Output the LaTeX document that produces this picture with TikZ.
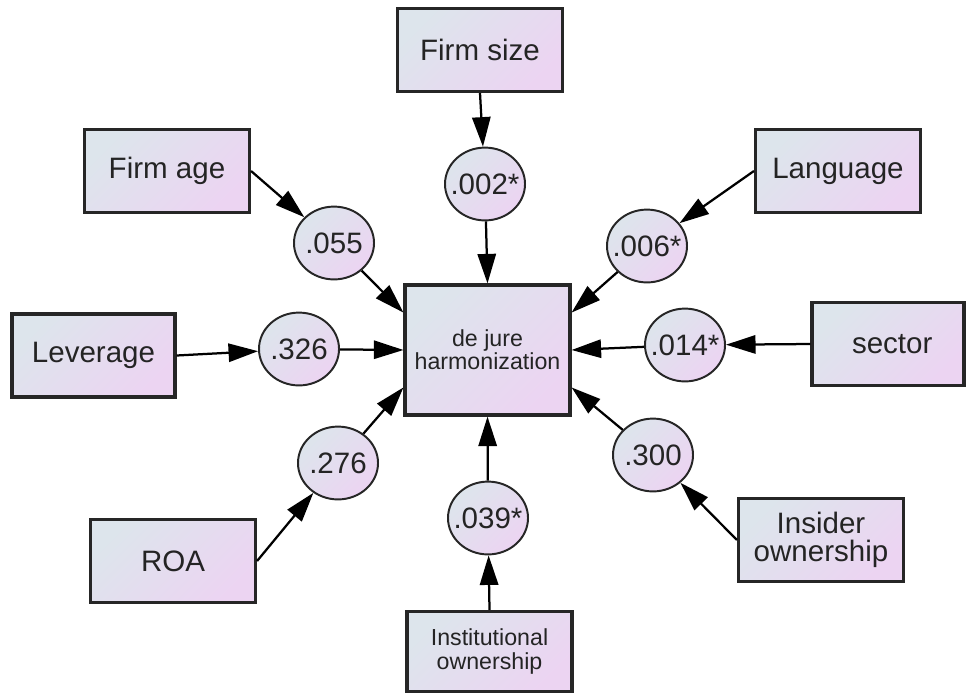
\documentclass[tikz,border=0pt]{standalone}
\usepackage{fontspec}
\setmainfont{Liberation Sans}
\usepackage{xcolor}
\usetikzlibrary{shapes.geometric, arrows.meta, positioning, calc}
\definecolor{shadeA}{HTML}{DDE5EC}
\definecolor{shadeB}{HTML}{ECD4F2}
\definecolor{textgrey}{HTML}{242424}

\begin{document}
\begin{tikzpicture}[x=0.025cm, y=-0.025cm,
    varbox/.style={draw=black!85, line width=2.2pt, top color=shadeA, bottom color=shadeB, shading angle=45,
        minimum width=4.125cm, minimum height=2.075cm, inner sep=0pt, align=center, text=textgrey,
        font=\fontsize{21}{20}\selectfont},
    smallbox/.style={varbox, font=\fontsize{16.5}{16.5}\selectfont},
    pvalue/.style={ellipse, draw=black!85, line width=1.4pt, top color=shadeA, bottom color=shadeB, shading angle=45,
        minimum width=2cm, minimum height=1.82cm, inner xsep=-6pt, inner ysep=0pt, text=textgrey,
        font=\fontsize{21}{21}\selectfont},
    link/.style={line width=1.6pt, -{Triangle[length=21pt,width=13pt]}}]
    \clip (0,0) rectangle (966,693);
    % variables
    \node[varbox] (firmsize) at (480,50) {Firm size};
    \node[varbox] (firmage) at (167,171) {Firm age};
    \node[varbox] (language) at (838,171) {Language};
    \node[varbox, minimum width=4.075cm] (leverage) at (93.5,355.5) {Leverage};
    \node[varbox, minimum width=3.8cm] (sector) at (888,344) {\hspace*{6pt}sector};
    \node[varbox] (roa) at (173,561) {ROA};
    \node[varbox] (insider) at (821,540) {Insider\\ownership};
    \node[smallbox, minimum height=2cm] (institutional) at (489.5,651.5) {Institutional\\ownership};
    \node[smallbox, minimum height=3.25cm] (jure) at (487.5,350) {de jure\\harmonization};
    % p-values
    \node[pvalue] (c002) at (485,184) {.002*};
    \node[pvalue] (c055) at (334,243) {.055};
    \node[pvalue] (c006) at (647,246) {.006*};
    \node[pvalue] (c326) at (299,349) {.326};
    \node[pvalue] (c014) at (685,345) {.014*};
    \node[pvalue] (c276) at (338,463) {.276};
    \node[pvalue] (c300) at (653,455) {.300};
    \node[pvalue] (c039) at (488,518) {.039*};
    % paths
    \draw[link] (firmsize.south) -- (c002);
    \draw[link] (firmage.east) -- (c055);
    \draw[link] (language.west) -- (c006);
    \draw[link] (leverage.east) -- (c326);
    \draw[link] (sector.west) -- (c014);
    \draw[link] (roa.east) -- (c276);
    \draw[link] (insider.west) -- (c300);
    \draw[link] (institutional.north) -- (c039);
    \draw[link] (c002) -- (jure.north);
    \draw[link] (c055) -- (jure.156);
    \draw[link] (c006) -- (jure.24);
    \draw[link] (c326) -- (jure.west);
    \draw[link] (c014) -- (jure.east);
    \draw[link] (c276) -- (jure.204);
    \draw[link] (c300) -- (jure.336);
    \draw[link] (c039) -- (jure.south);
\end{tikzpicture}
\end{document}
